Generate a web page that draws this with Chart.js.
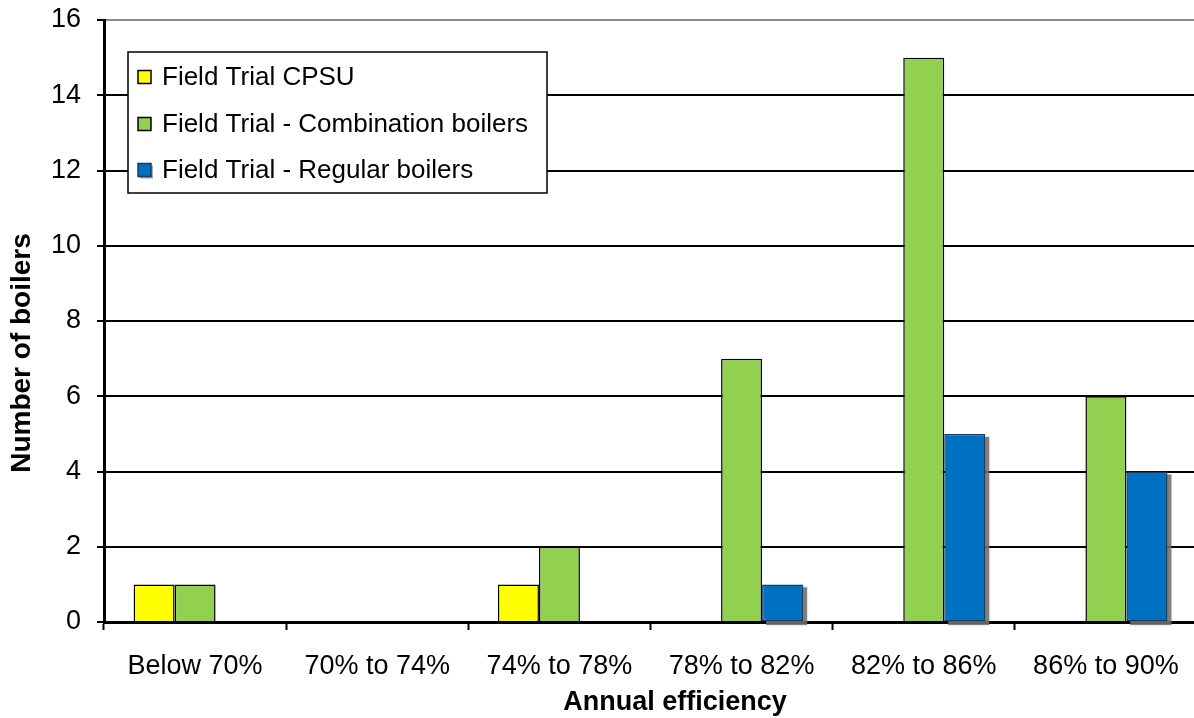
<!DOCTYPE html>
<html>
<head>
<meta charset="utf-8">
<script src="https://cdn.jsdelivr.net/npm/chart.js@4.4.1/dist/chart.umd.min.js"></script>
<style>
html,body{margin:0;padding:0;background:#fff;overflow:hidden;}
#wrap{width:1197px;height:718px;position:relative;}
</style>
</head>
<body>
<div id="wrap"><canvas id="c" width="1197" height="718"></canvas></div>
<script>
const categories = ['Below 70%', '70% to 74%', '74% to 78%', '78% to 82%', '82% to 86%', '86% to 90%'];
const cpsu = [1, 0, 1, 0, 0, 0];
const combination = [1, 0, 2, 7, 15, 6];
const regular = [0, 0, 0, 1, 5, 4];
const seriesNames = ['Field Trial CPSU', 'Field Trial - Combination boilers', 'Field Trial - Regular boilers'];
const yTicks = [0, 2, 4, 6, 8, 10, 12, 14, 16];
const xTitle = 'Annual efficiency';
const yTitle = 'Number of boilers';

const FONT = "'Liberation Sans', Arial, sans-serif";

const shadowPlugin = {
  id: 'barShadow',
  beforeDatasetDraw(chart, args) {
    if (args.index !== 2) return;
    const ctx = chart.ctx;
    const meta = chart.getDatasetMeta(2);
    ctx.save();
    ctx.fillStyle = 'rgba(110,110,110,0.8)';
    ctx.shadowColor = 'rgba(110,110,110,0.6)';
    ctx.shadowBlur = 2;
    meta.data.forEach(el => {
      const p = el.getProps(['x', 'y', 'base', 'width'], true);
      const h = p.base - p.y;
      if (h <= 0) return;
      ctx.fillRect(p.x - p.width / 2 + 4, p.y + 3, p.width, h + 1);
    });
    ctx.restore();
  }
};

const titlePlugin = {
  id: 'axisTitles',
  afterDraw(chart) {
    const ctx = chart.ctx;
    ctx.save();
    ctx.fillStyle = '#000';
    ctx.textAlign = 'center';
    ctx.textBaseline = 'middle';
    ctx.font = "bold 27px " + FONT;
    ctx.fillText(xTitle, 675, 703);
    ctx.translate(22, 353);
    ctx.rotate(-Math.PI / 2);
    ctx.font = "bold 28px " + FONT;
    ctx.fillText(yTitle, 0, 0);
    ctx.restore();
  }
};

const legendPlugin = {
  id: 'boxLegend',
  afterDraw(chart) {
    const ctx = chart.ctx;
    const x0 = 128, y0 = 52, w = 419, h = 141;
    ctx.save();
    ctx.fillStyle = '#fff';
    ctx.fillRect(x0, y0, w, h);
    ctx.strokeStyle = '#000';
    ctx.lineWidth = 1.5;
    ctx.strokeRect(x0, y0, w, h);
    const rows = [77, 124, 170];
    ctx.font = "26px " + FONT;
    ctx.textBaseline = 'middle';
    ctx.textAlign = 'left';
    chart.data.datasets.forEach((ds, i) => {
      const cy = rows[i];
      const ms = 13;
      const mx = 138, my = cy - ms / 2;
      if (i === 2) {
        ctx.fillStyle = 'rgba(110,110,110,0.6)';
        ctx.fillRect(mx + 2, my + 2, ms, ms);
      }
      ctx.fillStyle = ds.backgroundColor;
      ctx.fillRect(mx, my, ms, ms);
      ctx.strokeStyle = ds.borderColor;
      ctx.lineWidth = 1.5;
      ctx.strokeRect(mx, my, ms, ms);
      ctx.fillStyle = '#000';
      ctx.fillText(ds.label, 162, cy + 1);
    });
    ctx.restore();
  }
};

new Chart(document.getElementById('c'), {
  type: 'bar',
  data: {
    labels: categories,
    datasets: [
      { label: seriesNames[0], data: cpsu, backgroundColor: '#FFFF00', borderColor: '#000000', borderWidth: 1.5, borderSkipped: 'start' },
      { label: seriesNames[1], data: combination, backgroundColor: '#92D050', borderColor: '#000000', borderWidth: 1.5, borderSkipped: 'start' },
      { label: seriesNames[2], data: regular, backgroundColor: '#0070C0', borderColor: '#1B3A5C', borderWidth: 1.5, borderSkipped: false, clip: false }
    ]
  },
  options: {
    responsive: false,
    animation: false,
    devicePixelRatio: 1,
    categoryPercentage: 0.675,
    barPercentage: 1,
    layout: { padding: { top: 20, right: 0, bottom: 0, left: 0 } },
    plugins: { legend: { display: false }, tooltip: { enabled: false } },
    scales: {
      x: {
        offset: true,
        afterFit(s) { s.height = 96; s.paddingLeft = 0; s.paddingRight = 0; },
        grid: { drawOnChartArea: false, drawTicks: true, tickLength: 8, tickColor: '#000', tickWidth: 2 },
        border: { display: true, color: '#000', width: 3 },
        ticks: { color: '#000', font: { family: FONT, size: 27 }, padding: 20, maxRotation: 0, autoSkip: false },
        title: { display: false }
      },
      y: {
        min: 0, max: 16,
        afterFit(s) { s.width = 104; s.paddingTop = 0; s.paddingBottom = 0; },
        afterBuildTicks(s) { s.ticks = yTicks.map(v => ({ value: v })); },
        grid: {
          color: ctx => (ctx.tick && ctx.tick.value === 16) ? '#8c8c8c' : '#000',
          lineWidth: 2,
          drawTicks: true, tickLength: 7, tickColor: '#000', tickWidth: 2
        },
        border: { display: true, color: '#000', width: 3 },
        ticks: { color: '#000', font: { family: FONT, size: 27 }, padding: 16 },
        title: { display: false }
      }
    }
  },
  plugins: [shadowPlugin, legendPlugin, titlePlugin]
});
</script>
</body>
</html>
